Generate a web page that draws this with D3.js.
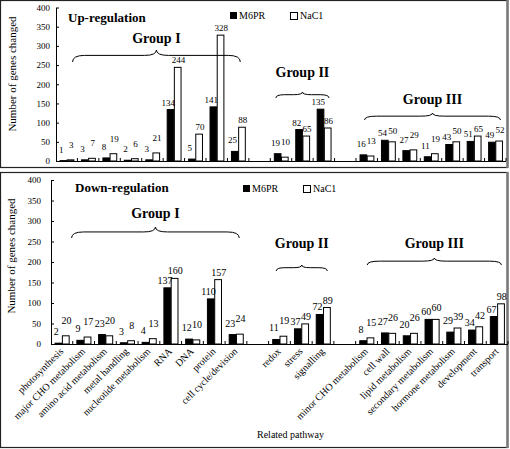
<!DOCTYPE html>
<html><head><meta charset="utf-8">
<script src="https://cdn.jsdelivr.net/npm/d3@7"></script>
<style>body{margin:0;background:#fff}svg{display:block}</style>
</head><body>
<svg id="c" width="510" height="449"></svg>
<script>
const categories = ["photosynthesis","major CHO metabolism","amino acid metabolism","metal handling","nucleotide metabolism","RNA","DNA","protein","cell cycle/devision","",
"redox","stress","signalling"," ",
"minor CHO metabolism","cell wall","lipid metabolism","secondary metabolism","hormone metabolism","development","transport"];
const seriesNames = ["M6PR","NaC1"];
const upM6PR = [1,3,8,2,3,134,5,141,25,null,19,82,135,null,16,54,27,11,43,51,49];
const upNaCl = [3,7,19,6,21,244,70,328,88,null,10,65,86,null,13,50,29,19,50,65,52];
const downM6PR = [2,9,23,3,4,137,12,110,23,null,11,37,72,null,8,27,20,60,29,34,67];
const downNaCl = [20,17,20,8,13,160,10,157,24,null,19,49,89,null,15,26,26,60,39,42,98];
const yTicks = [0,50,100,150,200,250,300,350,400];
const groups = [{name:"Group I",from:0,to:8},{name:"Group II",from:10,to:12},{name:"Group III",from:14,to:20}];

const FONT = "'Liberation Serif', Tinos, 'DejaVu Serif', serif";
const svg = d3.select("#c");
const slots = categories.map((c,i)=>i);

function T(sel){ return sel.attr("font-family",FONT).attr("fill","#000"); }

function brace(g,x1,x2,yt,yb){
  const xm=(x1+x2)/2, ym=yt+(yb-yt)*0.45, r=Math.min(12,(x2-x1)/6);
  const p=`M${x1},${yb} Q${x1},${ym} ${x1+r},${ym} L${xm-r},${ym} Q${xm},${ym} ${xm},${yt} Q${xm},${ym} ${xm+r},${ym} L${x2-r},${ym} Q${x2},${ym} ${x2},${yb}`;
  g.append("path").attr("d",p).attr("fill","none").attr("stroke","#000").attr("stroke-width",1);
}

function panel(cfg){
  const g = svg.append("g");
  g.append("rect").attr("x",cfg.box[0]+0.5).attr("y",cfg.box[1]+0.5).attr("width",cfg.box[2]).attr("height",cfg.box[3])
    .attr("fill","#fff").attr("stroke","#222").attr("stroke-width",1.2);
  g.append("line").attr("x1",cfg.box[0]+cfg.box[2]+0.5).attr("x2",cfg.box[0]+cfg.box[2]+0.5)
    .attr("y1",cfg.box[1]).attr("y2",cfg.box[1]+cfg.box[3]+1).attr("stroke","#777").attr("stroke-width",2.5);
  const y = d3.scaleLinear().domain([0,400]).range([cfg.y0,cfg.y400]);
  const x = d3.scaleBand().domain(slots).range([cfg.xl,cfg.xr]).paddingInner(0.33).paddingOuter(0.165);
  const xs = d3.scaleBand().domain(seriesNames).range([0,x.bandwidth()]);
  const step = x.step();
  const ya = g.append("g").attr("transform",`translate(${cfg.xl},0)`)
    .call(d3.axisLeft(y).tickValues(yTicks).tickSize(-3).tickPadding(cfg.tickPad).tickSizeOuter(0));
  ya.attr("font-family",FONT).attr("font-size",9);
  ya.select(".domain").attr("stroke","#000");
  ya.selectAll("line").attr("stroke","#000");
  ya.selectAll("text").attr("fill","#000");
  g.append("line").attr("x1",cfg.xl).attr("x2",cfg.xr).attr("y1",cfg.y0+0.5).attr("y2",cfg.y0+0.5).attr("stroke","#000");
  g.selectAll(".xt").data(d3.range(1,categories.length+1)).join("line")
    .attr("x1",d=>cfg.xl+d*step).attr("x2",d=>cfg.xl+d*step).attr("y1",cfg.y0).attr("y2",cfg.y0-3).attr("stroke","#000");
  const data = [];
  categories.forEach((c,i)=>{
    if(cfg.a[i]==null) return;
    data.push({i,s:"M6PR",v:cfg.a[i],o:cfg.b[i]});
    data.push({i,s:"NaC1",v:cfg.b[i],o:cfg.a[i]});
  });
  g.selectAll(".bar").data(data).join("rect")
    .attr("x",d=>x(d.i)+xs(d.s)+0.5).attr("width",xs.bandwidth()-0.5)
    .attr("y",d=>y(d.v)).attr("height",d=>y(0)-y(d.v))
    .attr("fill",d=>d.s==="M6PR"?"#000":"#fff").attr("stroke","#000").attr("stroke-width",1);
  T(g.selectAll(".vl").data(data).join("text"))
    .attr("x",d=>x(d.i)+xs(d.s)+xs.bandwidth()/2+(d.s==="M6PR"?-2:1))
    .attr("y",d=>{
      let yy=y(d.v)-4;
      if(d.v<30) yy-= (d.s==="NaC1"?8:4);
      else if(d.s==="NaC1" && Math.abs(d.v-d.o)<12) yy-=4;
      return yy;})
    .attr("text-anchor","middle").attr("font-size",cfg.lblSize).text(d=>d.v);
  T(g.append("text")).attr("x",cfg.title[0]).attr("y",cfg.title[1]).attr("font-size",13).attr("font-weight","bold").text(cfg.titleText);
  const L=cfg.legend;
  g.append("rect").attr("x",L[0]).attr("y",L[1]-7).attr("width",7).attr("height",7).attr("fill","#000");
  T(g.append("text")).attr("x",L[0]+9).attr("y",L[1]).attr("font-size",10).text(seriesNames[0]);
  g.append("rect").attr("x",L[2]+0.5).attr("y",L[1]-6.5).attr("width",7).attr("height",7).attr("fill","#fff").attr("stroke","#000");
  T(g.append("text")).attr("x",L[2]+10).attr("y",L[1]).attr("font-size",10).text(seriesNames[1]);
  groups.forEach((gr,k)=>{
    const x1=x(gr.from)+cfg.braceIn[k][0], x2=x(gr.to)+x.bandwidth()+cfg.braceIn[k][1];
    brace(g,x1,x2,cfg.braceY[k][0],cfg.braceY[k][1]);
    T(g.append("text")).attr("x",(x1+x2)/2).attr("y",cfg.groupY[k]).attr("text-anchor","middle")
      .attr("font-size",14).attr("font-weight","bold").text(gr.name);
  });
  T(g.append("text")).attr("transform",`translate(${cfg.yTitle[0]},${cfg.yTitle[1]}) rotate(-90)`)
    .attr("text-anchor","middle").attr("font-size",11).text("Number of genes changed");
  return {x,y,g};
}

panel({box:[0,0,507,167],xl:56,xr:506,y0:161,y400:7.5,a:upM6PR,b:upNaCl,tickPad:6,lblSize:9,
  title:[68,22],titleText:"Up-regulation",legend:[230,19,290],
  braceIn:[[13,-5],[2,-2],[5,-2]],braceY:[[50,62],[92,98],[113,120]],groupY:[43,77,104],yTitle:[16,74]});

const P = panel({box:[0,172,507,275],xl:51,xr:508,y0:344,y400:180,a:downM6PR,b:downNaCl,tickPad:10,lblSize:10,
  title:[75,192],titleText:"Down-regulation",legend:[243,192,303],
  braceIn:[[17,-4],[4,-3],[8,-3]],braceY:[[227,238],[265,271],[258,265]],groupY:[218,248,248],yTitle:[15,256]});

T(P.g.selectAll(".cl").data(categories.map((c,i)=>({c,i})).filter(d=>d.c.trim()!=="")).join("text"))
  .attr("transform",d=>`translate(${P.x(d.i)+P.x.bandwidth()/2+2},${352}) rotate(-45)`)
  .attr("text-anchor","end").attr("font-size",10).text(d=>d.c);
T(P.g.append("text")).attr("x",257).attr("y",438).attr("font-size",10).text("Related pathway");
</script>
</body></html>
